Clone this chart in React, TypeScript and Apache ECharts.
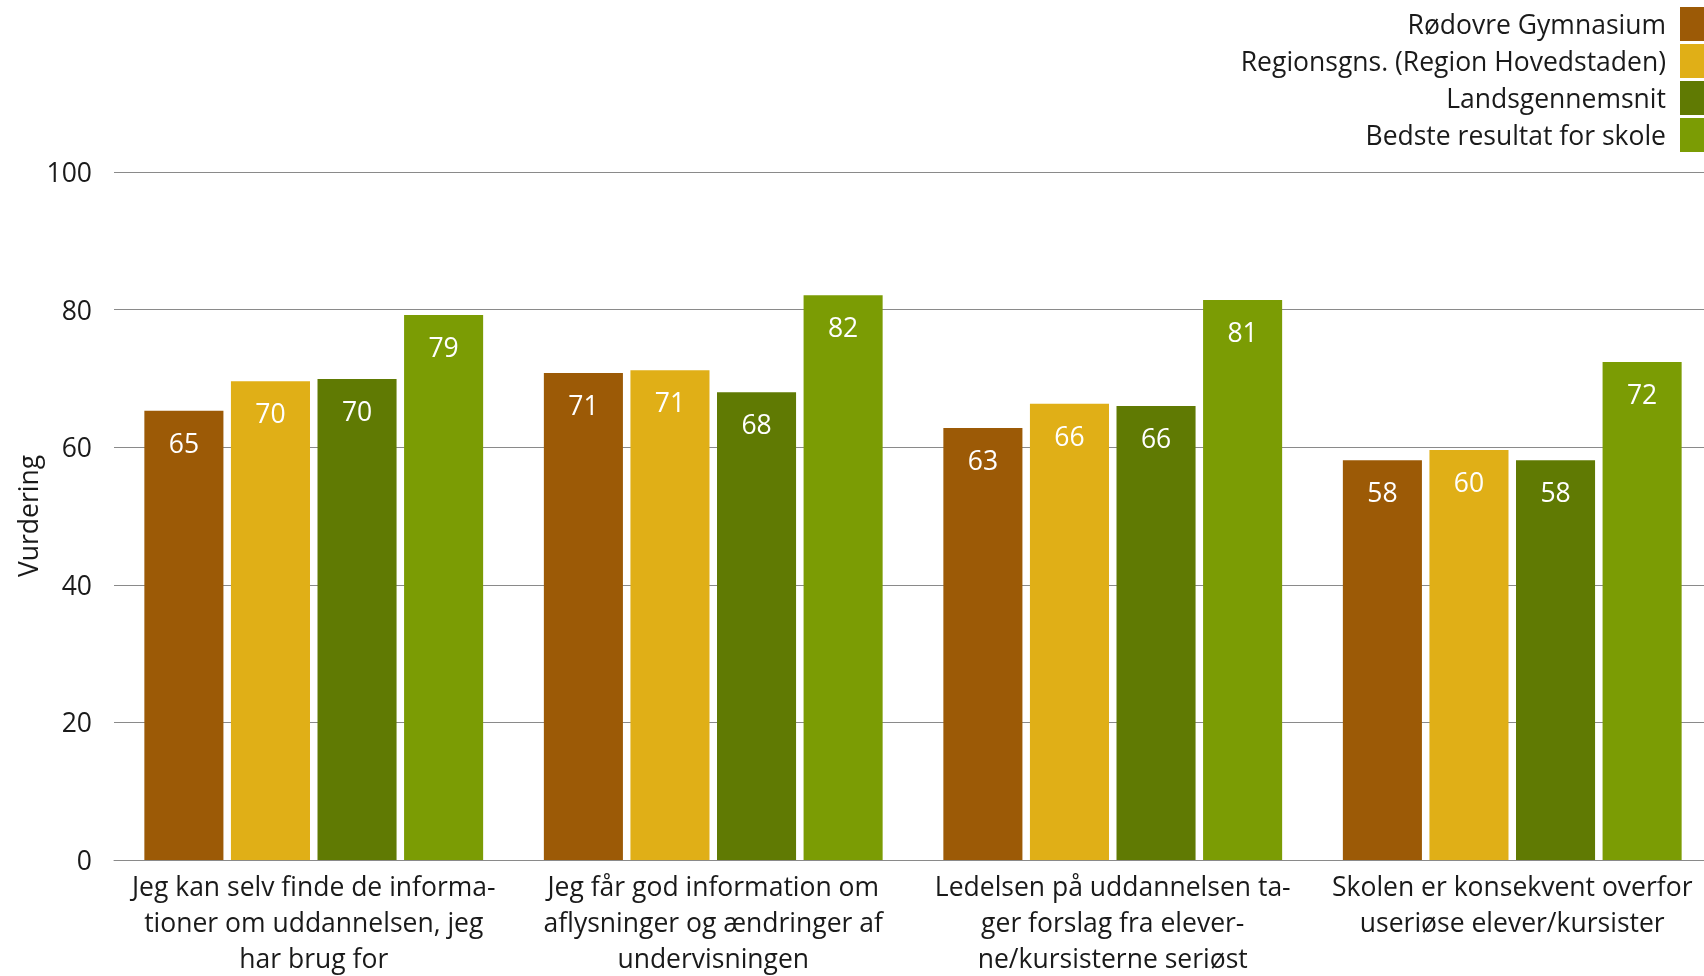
import React, { useEffect, useRef } from "react";
import * as echarts from "echarts";

const categories = [
  "Jeg kan selv finde de informa-\ntioner om uddannelsen, jeg\nhar brug for",
  "Jeg får god information om\naflysninger og ændringer af\nundervisningen",
  "Ledelsen på uddannelsen ta-\nger forslag fra elever-\nne/kursisterne seriøst",
  "Skolen er konsekvent overfor\nuseriøse elever/kursister",
];
const seriesNames = [
  "Rødovre Gymnasium",
  "Regionsgns. (Region Hovedstaden)",
  "Landsgennemsnit",
  "Bedste resultat for skole",
];
const roedovre = [65.3, 70.8, 62.8, 58.1];
const region = [69.6, 71.2, 66.3, 59.6];
const lands = [69.9, 68.0, 66.0, 58.1];
const bedste = [79.2, 82.1, 81.4, 72.4];
const colors = ["#9C5A06", "#E0AF17", "#607A03", "#7B9C04"];

const FONT = "'Open Sans', 'Noto Sans', sans-serif";
const FS = 26.5;

export default function App() {
  const ref = useRef<HTMLDivElement>(null);
  useEffect(() => {
    if (!ref.current) return;
    const chart = echarts.init(ref.current, undefined, { renderer: "svg" });
    const values = [roedovre, region, lands, bedste];
    chart.setOption({
      animation: false,
      textStyle: { fontFamily: FONT },
      legend: {
        orient: "vertical",
        right: 0,
        top: 7,
        padding: 0,
        align: "right",
        itemWidth: 24,
        itemHeight: 34,
        itemGap: 3,
        icon: "rect",
        data: seriesNames,
        textStyle: { fontSize: FS, color: "#1a1a1a", fontFamily: FONT, padding: [0, 9, 0, 0] },
      },
      grid: {
        left: 114,
        width: 1598,
        top: 172,
        bottom: 116,
        containLabel: false,
        outerBoundsMode: "none",
      },
      xAxis: {
        type: "category",
        data: categories,
        axisTick: { show: false },
        axisLine: { lineStyle: { color: "#8a8a8a", width: 1 } },
        axisLabel: {
          interval: 0,
          fontSize: FS,
          lineHeight: 36,
          margin: 8,
          color: "#1a1a1a",
          fontFamily: FONT,
          align: "center",
        },
      },
      yAxis: {
        type: "value",
        min: 0,
        max: 100,
        interval: 20,
        name: "Vurdering",
        nameLocation: "middle",
        nameGap: 73,
        nameMoveOverlap: false,
        nameTextStyle: { fontSize: FS, color: "#1a1a1a", fontFamily: FONT },
        axisLine: { show: false },
        axisTick: { show: false },
        axisLabel: { fontSize: FS, margin: 22, color: "#1a1a1a", fontFamily: FONT },
        splitLine: { lineStyle: { color: "#8a8a8a", width: 1 } },
      },
      series: seriesNames.map((name, i) => ({
        name,
        type: "bar",
        data: values[i],
        barCategoryGap: "15.2%",
        barGap: "9.5%",
        itemStyle: { color: colors[i] },
        label: {
          show: true,
          position: "insideTop",
          distance: 20,
          color: "#ffffff",
          fontSize: FS,
          lineHeight: 24,
          fontFamily: FONT,
          formatter: (p: any) => String(Math.round(p.value)),
        },
      })),
    });
    return () => chart.dispose();
  }, []);
  return (
    <div
      ref={ref}
      style={{ position: "fixed", left: 0, top: 0, width: 1704, height: 976 }}
    />
  );
}
